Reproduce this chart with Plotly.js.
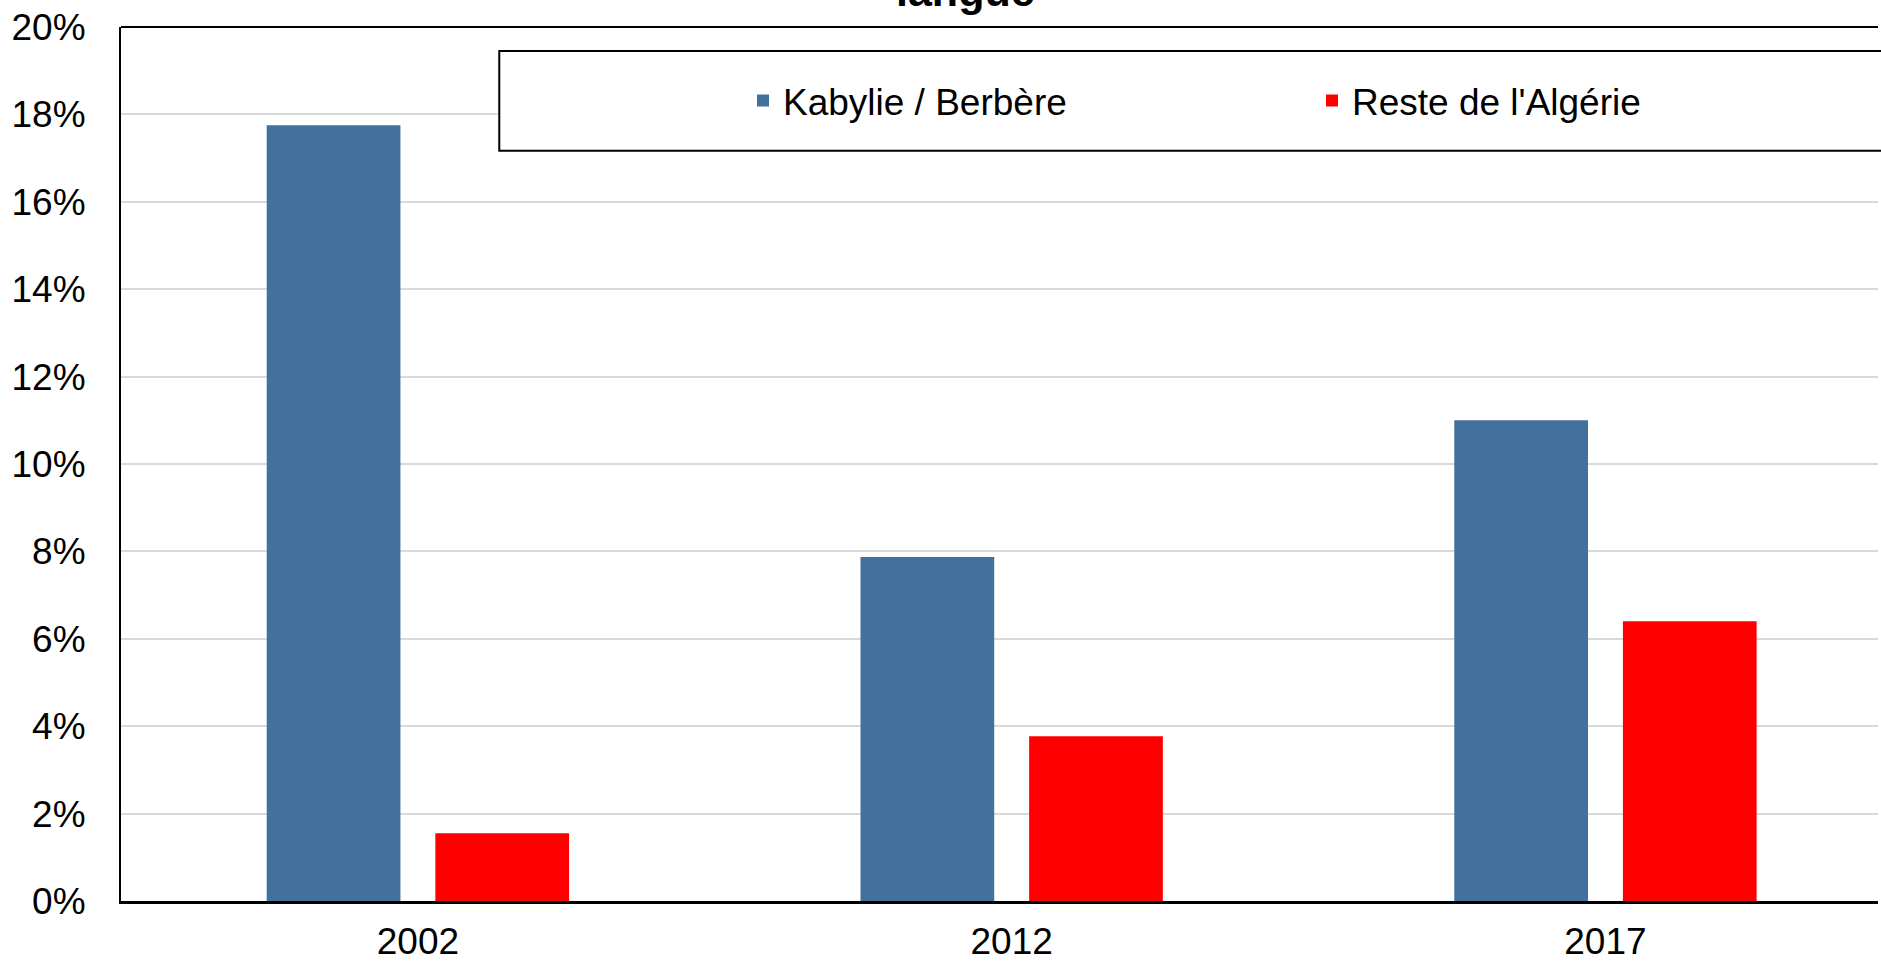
<!DOCTYPE html>
<html>
<head>
<meta charset="utf-8">
<script src="https://cdn.plot.ly/plotly-3.0.1.min.js"></script>
<style>
html,body{margin:0;padding:0;background:#fff;}
#chart{width:1881px;height:962px;}
</style>
</head>
<body>
<div id="chart"></div>
<script>
// Data
const years = ['2002', '2012', '2017'];
const seriesNames = ['Kabylie / Berbère', "Reste de l'Algérie"];
const kabylie = [0.1775, 0.0787, 0.110];
const resteAlgerie = [0.0155, 0.0377, 0.0640];
const yTicks = [0, 0.02, 0.04, 0.06, 0.08, 0.10, 0.12, 0.14, 0.16, 0.18, 0.20];
const titleText = 'langue';

const FONT = 'Liberation Sans, Arial, sans-serif';

const traces = [
  {
    type: 'bar', name: seriesNames[0], x: years, y: kabylie,
    marker: {color: '#41719C'}, hoverinfo: 'skip'
  },
  {
    type: 'bar', name: seriesNames[1], x: years, y: resteAlgerie,
    marker: {color: '#FF0000'}, hoverinfo: 'skip'
  }
];

const layout = {
  width: 1881, height: 962,
  margin: {l: 121, r: 0, t: 27, b: 61, pad: 0},
  paper_bgcolor: '#ffffff', plot_bgcolor: '#ffffff',
  font: {family: FONT, size: 37, color: '#000000'},
  barmode: 'group',
  bargap: 0.432,
  bargroupgap: 0.207,
  showlegend: true,
  legend: {
    orientation: 'h',
    x: 0.354, xanchor: 'left',
    y: 0.9154, yanchor: 'middle',
    bgcolor: 'rgba(0,0,0,0)', borderwidth: 0,
    font: {family: FONT, size: 37, color: '#000000'},
    entrywidth: 524, entrywidthmode: 'pixels',
    traceorder: 'normal'
  },
  xaxis: {
    type: 'category',
    range: [-0.5, 2.459],
    showgrid: false, zeroline: false,
    showline: true, linecolor: '#000000', linewidth: 3,
    ticks: '', ticklabelstandoff: 6,
    tickfont: {family: FONT, size: 37, color: '#000000'},
    fixedrange: true
  },
  yaxis: {
    range: [0, 0.20],
    tickvals: yTicks,
    tickformat: '.0%',
    showgrid: true, gridcolor: '#D9D9D9', gridwidth: 2,
    zeroline: false,
    showline: true, linecolor: '#000000', linewidth: 2,
    ticks: '', ticklabelstandoff: 26,
    tickfont: {family: FONT, size: 37, color: '#000000'},
    fixedrange: true
  },
  shapes: [
    // top frame line of plot area
    {type: 'line', xref: 'paper', yref: 'paper', x0: 0, x1: 1, y0: 1, y1: 1,
     line: {color: '#000000', width: 2}, layer: 'above'},
    // legend box
    {type: 'rect', xref: 'paper', yref: 'paper',
     x0: 0.2153, x1: 1.02, y0: 0.8585, y1: 0.9724,
     line: {color: '#000000', width: 2}, fillcolor: '#ffffff', layer: 'above'}
  ],
  annotations: [
    {text: '<b>' + titleText + '</b>', xref: 'paper', yref: 'paper',
     x: (967 - 121) / 1760, xanchor: 'center',
     y: 1.0414, yanchor: 'middle', showarrow: false,
     font: {family: FONT, size: 43, color: '#000000'}}
  ]
};

Plotly.newPlot('chart', traces, layout, {displayModeBar: false, staticPlot: true});
</script>
</body>
</html>
